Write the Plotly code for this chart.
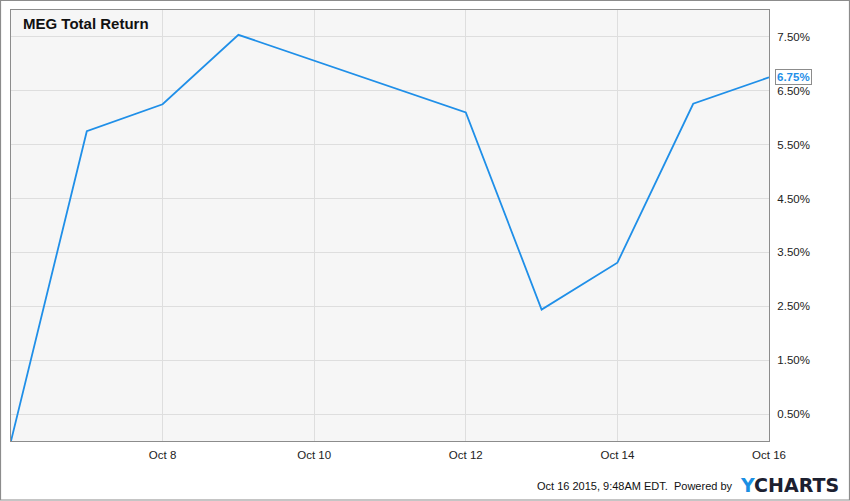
import plotly.graph_objects as go

dates = ["2015-10-06", "2015-10-07", "2015-10-08", "2015-10-09", "2015-10-12",
         "2015-10-13", "2015-10-14", "2015-10-15", "2015-10-16"]
total_return = [0.0, 5.75, 6.25, 7.54, 6.10, 2.44, 3.31, 6.26, 6.75]

x_tick_vals = ["2015-10-08", "2015-10-10", "2015-10-12", "2015-10-14", "2015-10-16"]
x_tick_text = ["Oct 8", "Oct 10", "Oct 12", "Oct 14", "Oct 16"]
y_tick_vals = [0.5, 1.5, 2.5, 3.5, 4.5, 5.5, 6.5, 7.5]
y_tick_text = ["0.50%", "1.50%", "2.50%", "3.50%", "4.50%", "5.50%", "6.50%", "7.50%"]

title_text = "MEG Total Return"
last_label = "6.75%"
footer_text = "Oct 16 2015, 9:48AM EDT.  Powered by"

LINE = "#1f8fe8"
FONT = "Liberation Sans, Arial, sans-serif"

fig = go.Figure()
fig.add_trace(go.Scatter(x=dates, y=total_return, mode="lines",
                         line=dict(color=LINE, width=1.8), hoverinfo="skip",
                         showlegend=False))

fig.update_layout(
    width=850, height=501,
    margin=dict(l=11, r=81, t=10, b=60),
    paper_bgcolor="white", plot_bgcolor="#f6f6f6",
    font=dict(family=FONT, size=11.5, color="#222"),
    xaxis=dict(type="date", range=["2015-10-06", "2015-10-16"],
               tickvals=x_tick_vals, ticktext=x_tick_text,
               showgrid=True, gridcolor="#dedede", gridwidth=1,
               showline=True, linecolor="#8c8c8c", linewidth=1, mirror=True,
               ticks="", ticklabelstandoff=3, zeroline=False,
               tickfont=dict(family=FONT, size=11.5, color="#222")),
    yaxis=dict(range=[0, 8.0], side="right",
               tickvals=y_tick_vals, ticktext=y_tick_text,
               showgrid=True, gridcolor="#dedede", gridwidth=1,
               showline=True, linecolor="#8c8c8c", linewidth=1, mirror=True,
               ticks="", ticklabelstandoff=5, zeroline=False,
               tickfont=dict(family=FONT, size=11.5, color="#222")),
)

# outer frame
pl, pt, pw, ph = 11, 10, 758, 431
def px(x):
    return (x - pl) / pw
def py(y):
    return (pt + ph - y) / ph
fig.add_shape(type="rect", xref="paper", yref="paper",
              x0=px(0.5), x1=px(849.5), y0=py(500), y1=py(0.5),
              line=dict(color="#8c8c8c", width=1.2), fillcolor="rgba(0,0,0,0)",
              layer="above")

fig.add_annotation(text="<b>" + title_text + "</b>", xref="paper", yref="paper",
                   x=px(21), y=py(24), xanchor="left", yanchor="middle",
                   showarrow=False, font=dict(family=FONT, size=15, color="#111"))

fig.add_annotation(text="<b>" + last_label + "</b>", xref="paper", yref="y",
                   x=1, y=total_return[-1], xanchor="left", yanchor="middle",
                   xshift=6, showarrow=False,
                   font=dict(family=FONT, size=11.5, color=LINE),
                   bgcolor="white", bordercolor="#8c8c8c", borderwidth=1, borderpad=1)

fig.add_annotation(text=footer_text, xref="paper", yref="paper",
                   x=px(735), y=py(486), xanchor="right", yanchor="middle",
                   showarrow=False, font=dict(family=FONT, size=11, color="#111"))

fig.add_annotation(text="<b><span style='color:#1a8fe3'>Y</span>CHARTS</b>",
                   xref="paper", yref="paper",
                   x=px(738), y=py(485), xanchor="left", yanchor="middle",
                   showarrow=False,
                   font=dict(family="DejaVu Sans, sans-serif", size=19, color="#1c2030"))

fig.write_html("out.html", config={"displayModeBar": False},
               post_script="document.body.style.margin='0';document.body.style.overflow='hidden';")
